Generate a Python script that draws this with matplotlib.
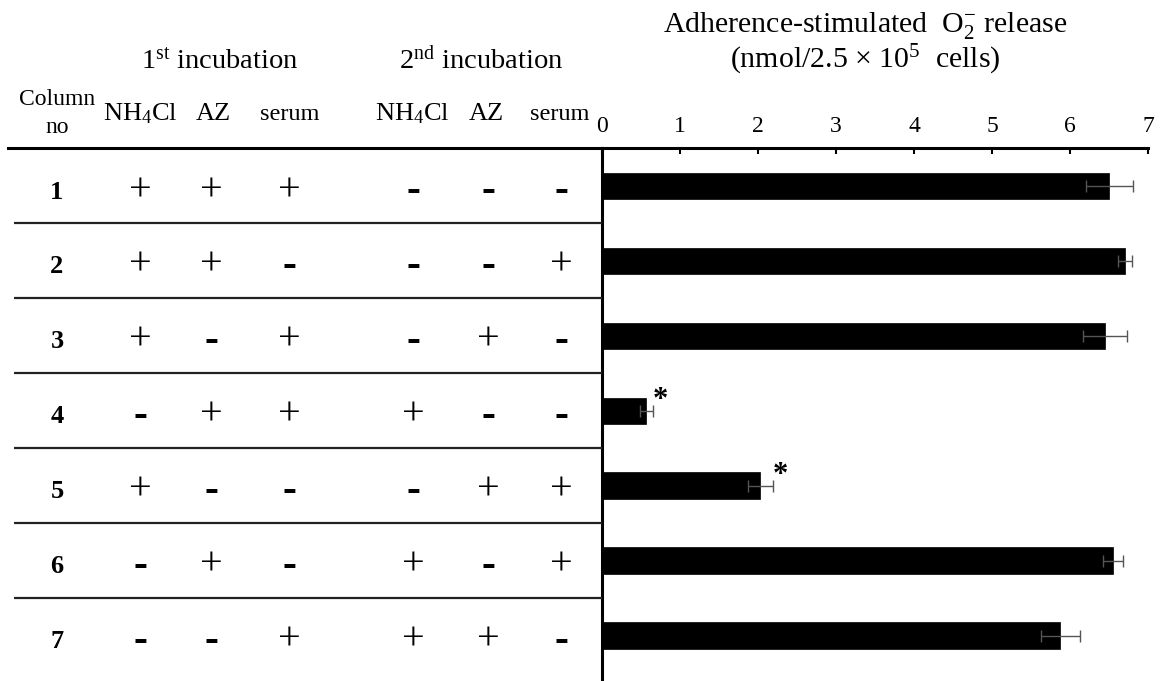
import matplotlib
matplotlib.use("Agg")
import matplotlib.pyplot as plt

plt.rcParams['font.family'] = ['Liberation Serif', 'DejaVu Serif']
plt.rcParams['mathtext.fontset'] = 'custom'
plt.rcParams['mathtext.rm'] = 'Liberation Serif'
plt.rcParams['mathtext.it'] = 'Liberation Serif:italic'
plt.rcParams['mathtext.bf'] = 'Liberation Serif:bold'

# --- data ---
row_labels = ['1', '2', '3', '4', '5', '6', '7']
first_nh4cl = ['+', '+', '+', '-', '+', '-', '-']
first_az = ['+', '+', '-', '+', '-', '+', '-']
first_serum = ['+', '-', '+', '+', '-', '-', '+']
second_nh4cl = ['-', '-', '-', '+', '-', '+', '+']
second_az = ['-', '-', '+', '-', '+', '-', '+']
second_serum = ['-', '+', '-', '-', '+', '+', '-']

o2_release = [6.50, 6.70, 6.45, 0.57, 2.03, 6.55, 5.87]
o2_err = [0.30, 0.085, 0.28, 0.085, 0.16, 0.125, 0.25]
significant = [False, False, False, True, True, False, False]

col_headers = ['NH$_4$Cl', 'AZ', 'serum', 'NH$_4$Cl', 'AZ', 'serum']
x_ticks = [0, 1, 2, 3, 4, 5, 6, 7]

W, H = 1161, 681
fig = plt.figure(figsize=(W / 100, H / 100), dpi=100)

def fx(px):
    return px / W

def fy(py):
    return 1 - py / H

# layout (pixels)
x0, x7 = 601.7, 1148.3
top = 148.3
row0, row_h = 185.5, 75.0
ylo = (H - row0) / row_h

ax = fig.add_axes([fx(x0), 0, fx(x7) - fx(x0), fy(top)])
tab = fig.add_axes([0, 0, fx(x0), fy(top)], sharey=ax)

rows = list(range(len(row_labels)))

# bars
ax.barh(rows, o2_release, height=0.35, color='black', edgecolor='black', linewidth=0.5)
ax.errorbar(o2_release, rows, xerr=o2_err, fmt='none', ecolor='#555555',
            elinewidth=1.0, capsize=4.3, capthick=1.0)
for r, v, e, s in zip(rows, o2_release, o2_err, significant):
    if s:
        ax.text(v + e + 0.1, r - 0.14, '*', fontsize=22, fontweight='bold',
                ha='center', va='center')

ax.set_xlim(0, 7)
ax.set_ylim(ylo, -0.5)
ax.set_xticks(x_ticks)
ax.xaxis.tick_top()
ax.tick_params(axis='x', direction='in', length=4, width=1.5, labelsize=17, pad=8)
ax.set_yticks([])
for side in ['right', 'bottom']:
    ax.spines[side].set_visible(False)
ax.spines['top'].set_linewidth(2.2)
ax.spines['left'].set_linewidth(2.2)

# table
tab.set_xlim(0, x0)
tab.axis('off')
col_x = [140, 211, 289, 413, 488, 561]
columns = [first_nh4cl, first_az, first_serum, second_nh4cl, second_az, second_serum]
for r in rows:
    tab.text(57, r + 0.17, row_labels[r], fontsize=19, fontweight='bold',
             ha='center', va='baseline')
    for cx, col in zip(col_x, columns):
        sign = col[r]
        if sign == '+':
            tab.text(cx, r + 0.19, '+', fontsize=29, ha='center', va='baseline')
        else:
            tab.text(cx, r + 0.2, '-', fontsize=30, fontweight='bold',
                     ha='center', va='baseline')
for r in rows[:-1]:
    tab.plot([14, x0], [r + 0.5, r + 0.5], color='#222222', lw=1.6,
             solid_capstyle='butt', clip_on=False)
tab.plot([8, x0], [-0.5, -0.5], color='black', lw=2.2, clip_on=False)

# headers
fig.text(fx(220), fy(68), '1$^{\\mathrm{st}}$ incubation', fontsize=20.5,
         ha='center', va='baseline')
fig.text(fx(481), fy(68), '2$^{\\mathrm{nd}}$ incubation', fontsize=20.5,
         ha='center', va='baseline')
fig.text(fx(57), fy(105), 'Column', fontsize=17, ha='center', va='baseline')
fig.text(fx(57), fy(133), 'no', fontsize=17, ha='center', va='baseline')
head_x = [140, 213, 290, 412, 486, 560]
for hx, h in zip(head_x, col_headers):
    fig.text(fx(hx), fy(120), h, fontsize=19 if h != 'serum' else 17.5,
             ha='center', va='baseline')

fig.text(fx(865), fy(32), 'Adherence-stimulated  O$_2^{\\mathrm{-}}$ release',
         fontsize=21.5, ha='center', va='baseline')
fig.text(fx(865), fy(68), '(nmol/2.5 \u00d7 10$^5$  cells)',
         fontsize=21.5, ha='center', va='baseline')

fig.savefig('out.png', dpi=100)
